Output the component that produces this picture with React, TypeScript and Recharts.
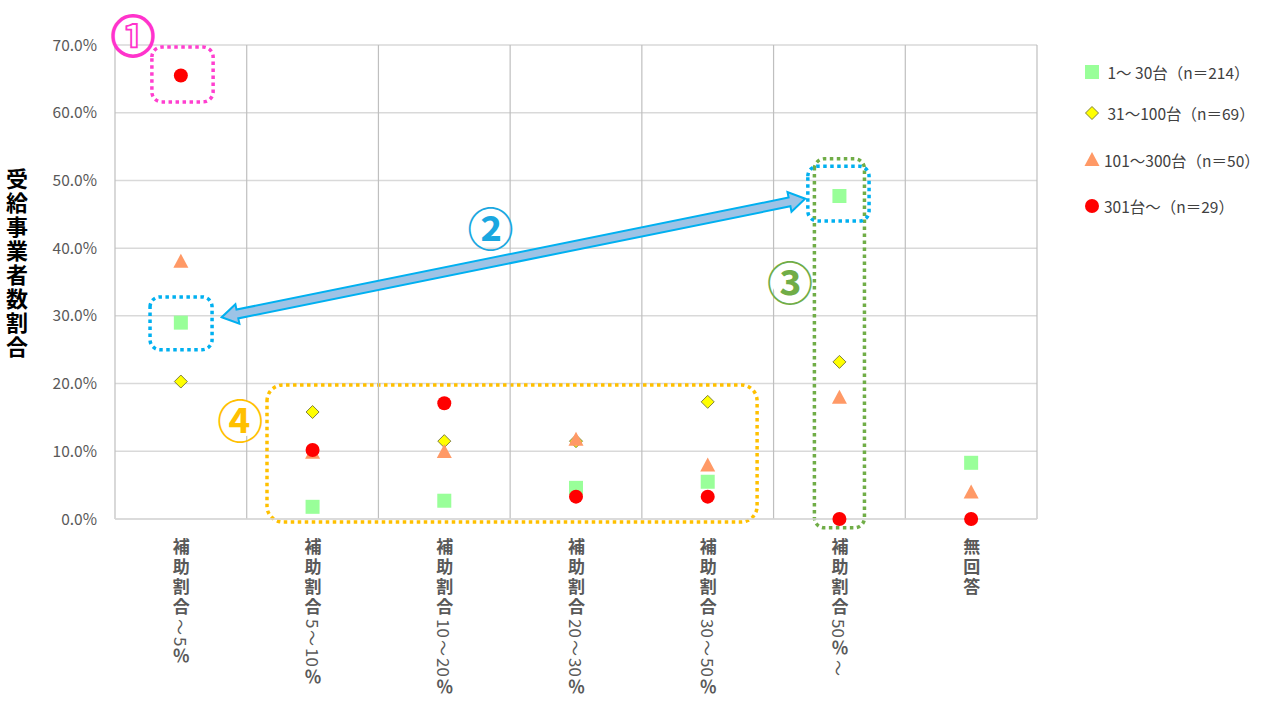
import React from 'react';
import {
  ScatterChart, Scatter, XAxis, YAxis, CartesianGrid, ReferenceLine, ReferenceArea, ReferenceDot,
} from 'recharts';

const categories = ['補助割合～5％', '補助割合5～10％', '補助割合10～20％', '補助割合20～30％', '補助割合30～50％', '補助割合50％～', '無回答'];
const seriesNames = [' 1～ 30台（n＝214）', ' 31～100台（n＝69）', '101～300台（n＝50）', '301台～（n＝29）'];
const small = [0.290, 0.018, 0.027, 0.046, 0.055, 0.477, 0.083];
const medium = [0.203, 0.158, 0.115, 0.115, 0.173, 0.232, 0.0];
const large = [0.380, 0.098, 0.099, 0.117, 0.079, 0.179, 0.039];
const xlarge = [0.655, 0.102, 0.171, 0.033, 0.033, 0.0, 0.0];
const yTicks = [0, 0.1, 0.2, 0.3, 0.4, 0.5, 0.6, 0.7];

const FONT = '"Noto Sans CJK JP", "Noto Sans", sans-serif';
const COLORS = { small: '#99FF99', medium: '#FFFF00', large: '#FF9966', xlarge: '#FF0000' };

const toPoints = (vals: number[]) => vals.map((v, i) => ({ x: i + 0.5, y: v }));
const xTicks = categories.map((_, i) => i + 0.5);
const boundaries = categories.map((_, i) => i).concat([categories.length]);

const SquareShape = (p: any) => <rect x={p.cx - 7} y={p.cy - 7} width={14} height={14} fill={COLORS.small} />;
const DiamondShape = (p: any) => (
  <polygon points={`${p.cx},${p.cy - 6.5} ${p.cx + 6.5},${p.cy} ${p.cx},${p.cy + 6.5} ${p.cx - 6.5},${p.cy}`} fill={COLORS.medium} stroke="#7F7F40" strokeWidth={1} />
);
const TriangleShape = (p: any) => (
  <polygon points={`${p.cx},${p.cy - 8} ${p.cx + 7.5},${p.cy + 6} ${p.cx - 7.5},${p.cy + 6}`} fill={COLORS.large} />
);
const CircleShape = (p: any) => <circle cx={p.cx} cy={p.cy} r={7} fill={COLORS.xlarge} />;

const XTick = (props: any) => {
  const { x, y, payload } = props;
  const label: string = categories[Math.round(payload.value - 0.5)];
  const tokens = label.match(/[0-9]+|./g) || [];
  return (
    <foreignObject x={x - 15} y={y + 11} width={30} height={178}>
      <div style={{ display: 'flex', flexDirection: 'column', alignItems: 'center', width: 30, fontFamily: FONT, color: '#595959' }}>
        {tokens.map((t, i) => {
          const digits = /^[0-9]+$/.test(t);
          if (t === '～') {
            return (
              <div key={i} style={{ height: 18, width: 20, display: 'flex', alignItems: 'center', justifyContent: 'center' }}>
                <span style={{ display: 'inline-block', transform: 'rotate(90deg)', fontSize: 16, lineHeight: '18px' }}>{t}</span>
              </div>
            );
          }
          return (
            <div key={i} style={{
              writingMode: 'vertical-rl',
              textOrientation: digits ? 'sideways' : 'upright',
              fontSize: 17,
              fontWeight: digits ? 'normal' : 'bold',
              lineHeight: '20px',
              height: digits ? undefined : 20,
              whiteSpace: 'nowrap',
              paddingTop: digits ? 1 : 0,
              paddingBottom: digits ? 1 : 0,
            }}>{t}</div>
          );
        })}
      </div>
    </foreignObject>
  );
};

const circled = (ch: string, color: string) => (p: any) => (
  <text x={p.cx} y={p.cy + 1} fill="#FFFFFF" stroke={color} strokeWidth={1.8} fontSize={44} fontWeight="bold"
    fontFamily={FONT} textAnchor="middle" dominantBaseline="central">{ch}</text>
);
const circledFill = (ch: string, color: string) => (p: any) => (
  <g>
    <circle cx={p.cx} cy={p.cy} r={19} fill="#FFFFFF" />
    <text x={p.cx} y={p.cy} fill={color} fontSize={46} fontWeight="bold"
      fontFamily={FONT} textAnchor="middle" dominantBaseline="central">{ch}</text>
  </g>
);

const ArrowShape = (p: any) => {
  const { x1, y1, x2, y2 } = p;
  if (x1 == null) return null;
  const dx = x2 - x1, dy = y2 - y1;
  const len = Math.sqrt(dx * dx + dy * dy);
  const ux = dx / len, uy = dy / len;
  const nx = -uy, ny = ux;
  const hw = 4.5, hh = 10, hl = 16;
  const pt = (a: number, b: number) => `${(x1 + ux * a + nx * b).toFixed(1)},${(y1 + uy * a + ny * b).toFixed(1)}`;
  const pts = [
    pt(0, 0), pt(hl, hh), pt(hl, hw), pt(len - hl, hw), pt(len - hl, hh), pt(len, 0),
    pt(len - hl, -hh), pt(len - hl, -hw), pt(hl, -hw), pt(hl, -hh),
  ].join(' ');
  return <polygon points={pts} fill="#9DC3E6" stroke="#00B0F0" strokeWidth={2} strokeLinejoin="miter" />;
};

const legendItems = [
  { name: seriesNames[0], Shape: SquareShape, top: 72 },
  { name: seriesNames[1], Shape: DiamondShape, top: 113 },
  { name: seriesNames[2], Shape: TriangleShape, top: 160 },
  { name: seriesNames[3], Shape: CircleShape, top: 206 },
];

export default function App() {
  return (
    <div style={{ position: 'absolute', left: 0, top: 0, width: 1285, height: 706, background: '#FFFFFF', fontFamily: FONT }}>
      <ScatterChart width={1285} height={706} margin={{ top: 45, right: 248, bottom: 0, left: 40 }}>
        <CartesianGrid vertical={false} stroke="#D9D9D9" strokeWidth={1.5} />
        {boundaries.map((b) => (
          <ReferenceLine key={b} x={b} stroke="#BFBFBF" strokeWidth={1.2} />
        ))}
        <XAxis type="number" dataKey="x" domain={[0, 7]} ticks={xTicks} interval={0} tick={<XTick />}
          axisLine={{ stroke: '#D9D9D9', strokeWidth: 1.5 }} tickLine={false} height={187} allowDataOverflow />
        <YAxis type="number" dataKey="y" domain={[0, 0.7]} ticks={yTicks} width={75}
          tickFormatter={(v: number) => `${(v * 100).toFixed(1)}%`}
          tick={{ fill: '#595959', fontSize: 15.5, fontFamily: FONT }} axisLine={false} tickLine={false} tickMargin={12} />

        <ReferenceArea x1={0.28} x2={0.745} y1={0.697} y2={0.616} ifOverflow="visible" fill="none"
          stroke="#FF3FCF" strokeWidth={3.5} strokeDasharray="3.5 3.5" radius={10} />
        <ReferenceArea x1={0.266} x2={0.737} y1={0.328} y2={0.25} ifOverflow="visible" fill="none"
          stroke="#00B0F0" strokeWidth={3.5} strokeDasharray="3.5 3.5" radius={10} />
        <ReferenceArea x1={1.154} x2={4.875} y1={0.198} y2={-0.0045} ifOverflow="visible" fill="none"
          stroke="#FFC000" strokeWidth={3.5} strokeDasharray="3.5 3.5" radius={16} />
        <ReferenceArea x1={5.31} x2={5.69} y1={0.532} y2={-0.013} ifOverflow="visible" fill="none"
          stroke="#70AD47" strokeWidth={3.5} strokeDasharray="3.5 3.5" radius={10} />
        <ReferenceArea x1={5.26} x2={5.725} y1={0.521} y2={0.44} ifOverflow="visible" fill="none"
          stroke="#00B0F0" strokeWidth={3.5} strokeDasharray="3.5 3.5" radius={10} />

        <ReferenceLine segment={[{ x: 0.81, y: 0.298 }, { x: 5.24, y: 0.473 }]} ifOverflow="visible" shape={<ArrowShape />} />

        <ReferenceDot x={0.137} y={0.718} ifOverflow="visible" shape={circled('①', '#FF33CC')} />
        <ReferenceDot x={2.85} y={0.433} ifOverflow="visible" shape={circledFill('②', '#1AA7E0')} />
        <ReferenceDot x={5.125} y={0.353} ifOverflow="visible" shape={circledFill('③', '#70AD47')} />
        <ReferenceDot x={0.95} y={0.149} ifOverflow="visible" shape={circledFill('④', '#FFC000')} />

        <Scatter name={seriesNames[0]} data={toPoints(small)} shape={SquareShape} isAnimationActive={false} />
        <Scatter name={seriesNames[1]} data={toPoints(medium)} shape={DiamondShape} isAnimationActive={false} />
        <Scatter name={seriesNames[2]} data={toPoints(large)} shape={TriangleShape} isAnimationActive={false} />
        <Scatter name={seriesNames[3]} data={toPoints(xlarge)} shape={CircleShape} isAnimationActive={false} />
      </ScatterChart>

      <div style={{ position: 'absolute', left: 6, top: 168, fontSize: 22, fontWeight: 'bold', color: '#000',
        writingMode: 'vertical-rl', letterSpacing: 2, lineHeight: 1, fontFamily: FONT }}>受給事業者数割合</div>

      {legendItems.map(({ name, Shape, top }) => (
        <div key={name} style={{ position: 'absolute', left: 1082, top: top - 12, height: 24, display: 'flex', alignItems: 'center' }}>
          <svg width={20} height={20} style={{ display: 'block' }}>
            <Shape cx={10} cy={10} />
          </svg>
          <span style={{ fontSize: 15.5, color: '#404040', marginLeft: 2, whiteSpace: 'pre', fontFamily: FONT }}>{name}</span>
        </div>
      ))}
    </div>
  );
}
